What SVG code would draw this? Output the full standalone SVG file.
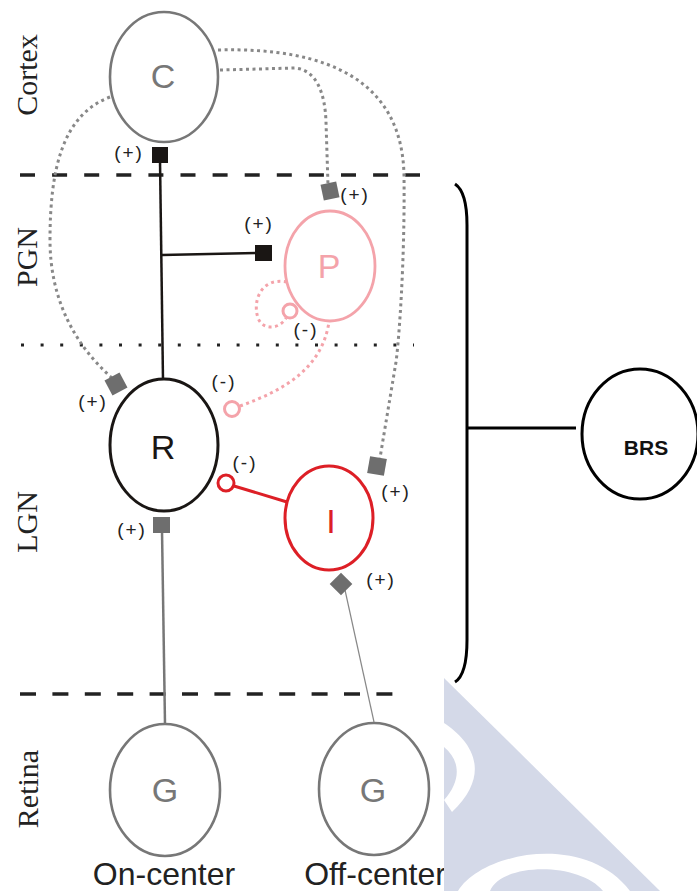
<svg xmlns="http://www.w3.org/2000/svg" width="697" height="891" viewBox="0 0 697 891">
<style>
.lbl{font-family:"Liberation Serif","Times New Roman",serif;font-size:30px;fill:#222;text-anchor:middle}
.sign{font-family:"Liberation Sans",Arial,sans-serif;font-size:19px;fill:#222;text-anchor:middle;letter-spacing:2px}
.nt{font-family:"Liberation Sans",Arial,sans-serif;font-size:34px;text-anchor:middle}
.cap{font-family:"Liberation Sans",Arial,sans-serif;font-size:32px;fill:#222;text-anchor:middle}
.dotg{fill:none;stroke:#888;stroke-width:3;stroke-dasharray:3 3.5}
.dotp{fill:none;stroke:#f4a3aa;stroke-width:3;stroke-dasharray:3 3.5}
.gsq{fill:#6e6e6e}
.bsq{fill:#1a1614}
</style>
<rect width="697" height="891" fill="#fff"/>

<!-- layer boundaries -->
<g id="layers">
<line x1="20" y1="175" x2="420" y2="175" stroke="#222" stroke-width="3.3" stroke-dasharray="15 17.1"/>
<line x1="21" y1="345" x2="414" y2="345" stroke="#222" stroke-width="3" stroke-dasharray="3 16.6"/>
<line x1="20" y1="694" x2="395" y2="694" stroke="#222" stroke-width="3.3" stroke-dasharray="16 16.4"/>
<text class="lbl" transform="translate(37,75) rotate(-90)">Cortex</text>
<text class="lbl" transform="translate(37,257) rotate(-90)">PGN</text>
<text class="lbl" transform="translate(37,522) rotate(-90)">LGN</text>
<text class="lbl" transform="translate(38,789) rotate(-90)">Retina</text>
</g>

<g id="connectors">
<!-- C to R (black) -->
<line x1="160" y1="160" x2="163" y2="380" stroke="#1a1614" stroke-width="2.5"/>
<line x1="162" y1="255" x2="258" y2="253" stroke="#1a1614" stroke-width="2.5"/>
<rect class="bsq" x="152" y="147" width="16" height="16"/>
<rect class="bsq" x="255" y="245" width="17" height="16"/>
<!-- C dotted projections -->
<path class="dotg" d="M110,97 C62,115 50,170 50,240 C50,300 75,345 112,378"/>
<path class="dotg" d="M220,70 L295,68 C316,70 325,92 326,122 L328,185"/>
<path class="dotg" d="M218,50 C330,47 402,82 404,175 C405,260 399,340 396,362 L380,458"/>
<rect class="gsq" x="-8.5" y="-8.5" width="17" height="17" transform="translate(116,384) rotate(-28)"/>
<rect class="gsq" x="-8" y="-8" width="16" height="16" transform="translate(330,191) rotate(-12)"/>
<rect class="gsq" x="-8.5" y="-8.5" width="17" height="17" transform="translate(377,466) rotate(10)"/>
<!-- retina inputs -->
<line x1="162" y1="530" x2="165" y2="724" stroke="#777" stroke-width="2.5"/>
<rect class="gsq" x="153" y="517" width="17" height="16"/>
<line x1="345" y1="590" x2="374" y2="722" stroke="#888" stroke-width="1.2"/>
<rect class="gsq" x="-8" y="-8" width="16" height="16" transform="translate(341,584) rotate(45)"/>
<!-- P inhibitory -->
<path class="dotp" d="M240,406 C285,390 322,368 329,322"/>
<circle cx="232" cy="409" r="7.5" fill="#fff" stroke="#f4a3aa" stroke-width="3"/>
<path class="dotp" d="M287,282 C262,277 252,300 258,318 C263,331 280,329 286,318"/>
<circle cx="290" cy="311" r="7" fill="#fff" stroke="#f4a3aa" stroke-width="3"/>
<!-- I inhibitory -->
<line x1="234" y1="486" x2="287" y2="502" stroke="#dd1f26" stroke-width="3"/>
<circle cx="226" cy="483" r="8" fill="#fff" stroke="#dd1f26" stroke-width="3"/>
<!-- signs -->
<text class="sign" x="129" y="159">(+)</text>
<text class="sign" x="355" y="201">(+)</text>
<text class="sign" x="259" y="230">(+)</text>
<text class="sign" x="93" y="408">(+)</text>
<text class="sign" x="132" y="536">(+)</text>
<text class="sign" x="396" y="498">(+)</text>
<text class="sign" x="381" y="586">(+)</text>
<text class="sign" x="306" y="336">(-)</text>
<text class="sign" x="224" y="388">(-)</text>
<text class="sign" x="245" y="469">(-)</text>
<!-- bracket to BRS -->
<path d="M455,184 C464,190 467,205 467,225 L467,640 C467,664 463,677 455,682" fill="none" stroke="#000" stroke-width="3"/>
<line x1="467" y1="428" x2="576" y2="428" stroke="#000" stroke-width="3"/>
</g>

<g id="node-C">
<ellipse cx="164" cy="77" rx="54" ry="65" fill="none" stroke="#777" stroke-width="2.6"/>
<text class="nt" x="163" y="88" fill="#777">C</text>
</g>
<g id="node-P">
<ellipse cx="330" cy="266" rx="45" ry="55" fill="#fff" stroke="#f4a3aa" stroke-width="2.8"/>
<text class="nt" x="329" y="278" fill="#f4a3aa">P</text>
</g>
<g id="node-R">
<ellipse cx="164" cy="445" rx="54" ry="66" fill="none" stroke="#1a1614" stroke-width="3"/>
<text class="nt" x="163" y="459" fill="#1a1614">R</text>
</g>
<g id="node-I">
<ellipse cx="329" cy="518" rx="44" ry="52" fill="none" stroke="#dd1f26" stroke-width="3"/>
<text class="nt" x="331" y="533" fill="#dd1f26">I</text>
</g>
<g id="node-G-on">
<ellipse cx="165" cy="790" rx="55" ry="66" fill="none" stroke="#777" stroke-width="2.6"/>
<text class="nt" x="165" y="802" fill="#777">G</text>
<text class="cap" x="164" y="885">On-center</text>
</g>
<g id="node-G-off">
<ellipse cx="374" cy="789" rx="55" ry="66" fill="none" stroke="#777" stroke-width="2.6"/>
<text class="nt" x="373" y="802" fill="#777">G</text>
<text class="cap" x="375" y="885">Off-center</text>
</g>
<g id="node-BRS">
<ellipse cx="640" cy="434" rx="58" ry="65" fill="none" stroke="#000" stroke-width="3"/>
<text x="646" y="455" font-family="Liberation Sans,Arial,sans-serif" font-size="21" font-weight="bold" text-anchor="middle" fill="#111">BRS</text>
</g>

<g id="watermark">
<polygon points="444,678 660,891 444,891" fill="#d4d9e8"/>
<path d="M444,723 C470,740 494,772 452,812 L444,800 C462,780 460,760 444,747 Z" fill="#fff"/>
<path d="M458,891 C482,852 585,832 630,891 L603,891 C580,862 502,862 490,891 Z" fill="#fff"/>
</g>
</svg>
